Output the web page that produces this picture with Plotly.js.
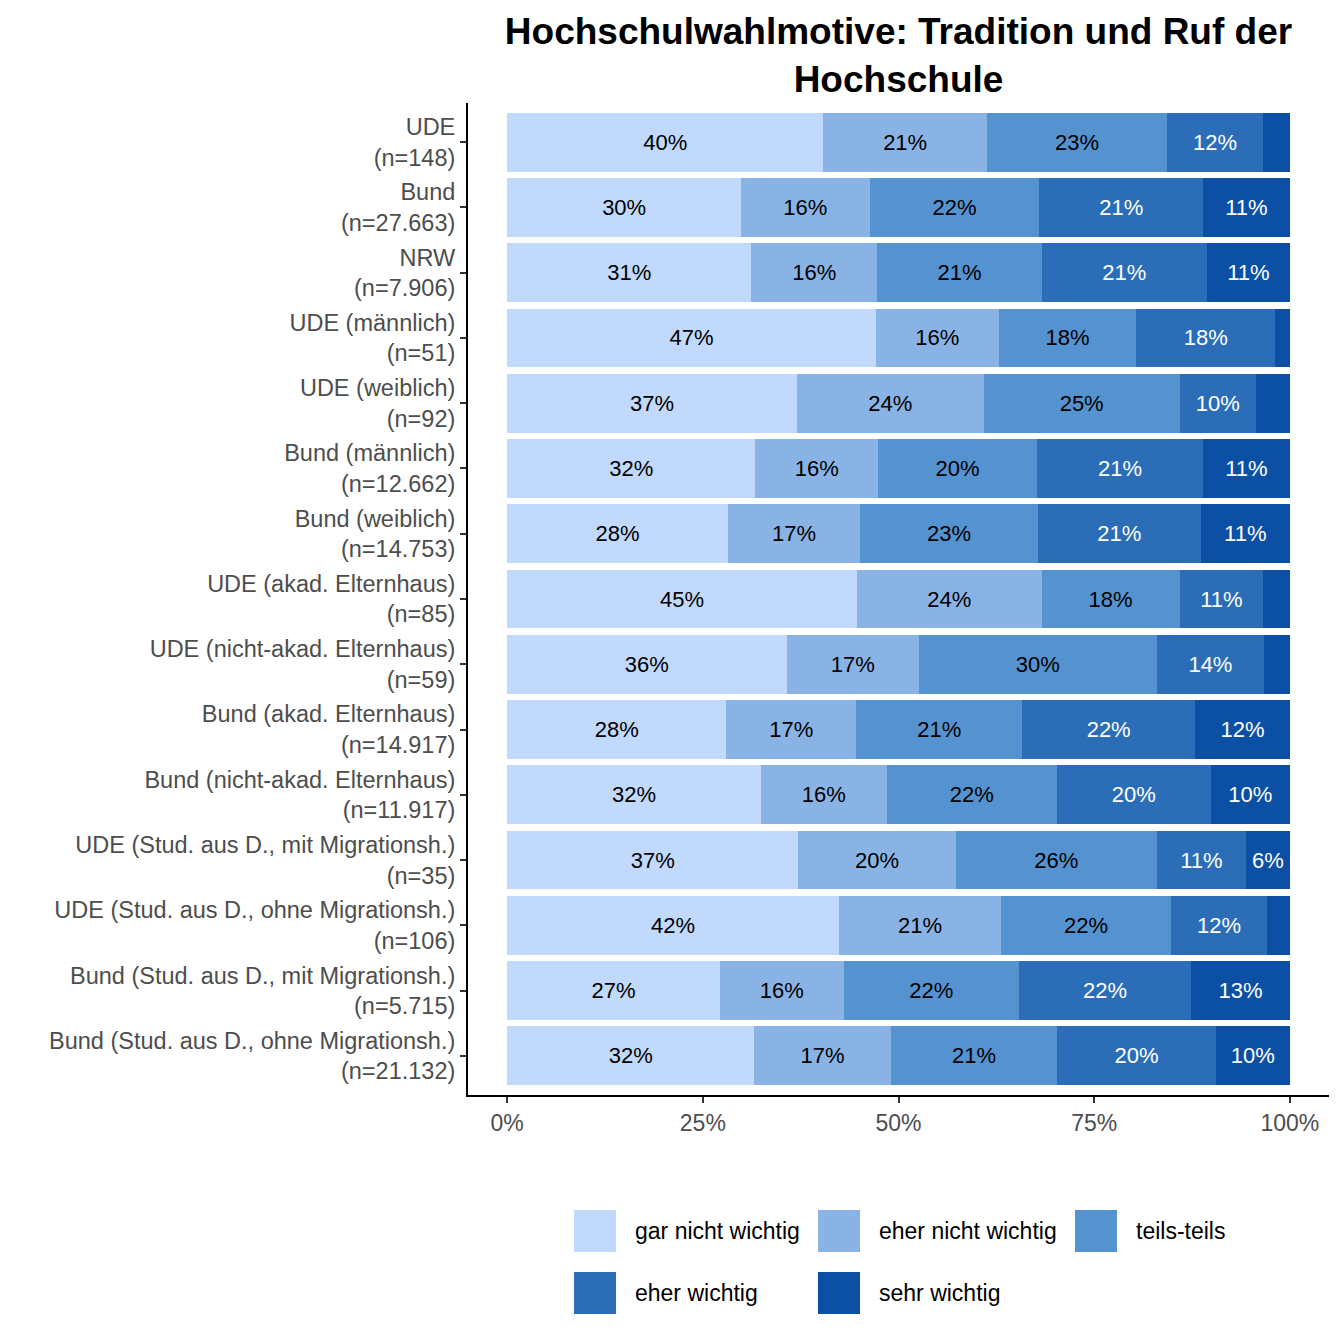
<!DOCTYPE html>
<html>
<head>
<meta charset="utf-8">
<script src="https://cdn.plot.ly/plotly-3.0.1.min.js"></script>
<style>body{margin:0;background:#fff}#myDiv{width:1344px;height:1344px}</style>
</head>
<body>
<div id="myDiv"></div>
<script>
// groups, top to bottom
groups = [
  'UDE<br>(n=148)',
  'Bund<br>(n=27.663)',
  'NRW<br>(n=7.906)',
  'UDE (männlich)<br>(n=51)',
  'UDE (weiblich)<br>(n=92)',
  'Bund (männlich)<br>(n=12.662)',
  'Bund (weiblich)<br>(n=14.753)',
  'UDE (akad. Elternhaus)<br>(n=85)',
  'UDE (nicht-akad. Elternhaus)<br>(n=59)',
  'Bund (akad. Elternhaus)<br>(n=14.917)',
  'Bund (nicht-akad. Elternhaus)<br>(n=11.917)',
  'UDE (Stud. aus D., mit Migrationsh.)<br>(n=35)',
  'UDE (Stud. aus D., ohne Migrationsh.)<br>(n=106)',
  'Bund (Stud. aus D., mit Migrationsh.)<br>(n=5.715)',
  'Bund (Stud. aus D., ohne Migrationsh.)<br>(n=21.132)'
];

levels = ['gar nicht wichtig', 'eher nicht wichtig', 'teils-teils', 'eher wichtig', 'sehr wichtig'];

// shares in percent, one array per answer level
garNicht   = [40.4, 29.9, 31.2, 47.1, 37.0, 31.7, 28.2, 44.7, 35.7, 28.0, 32.4, 37.2, 42.4, 27.2, 31.6];
eherNicht  = [20.9, 16.4, 16.1, 15.7, 23.9, 15.7, 16.9, 23.6, 16.9, 16.6, 16.1, 20.1, 20.7, 15.8, 17.4];
teilsTeils = [23.0, 21.7, 21.0, 17.6, 25.0, 20.3, 22.7, 17.6, 30.4, 21.2, 21.7, 25.7, 21.7, 22.4, 21.3];
eherWichtig= [12.3, 20.9, 21.1, 17.7,  9.8, 21.2, 20.8, 10.7, 13.7, 22.1, 19.7, 11.4, 12.3, 22.0, 20.2];
sehrWichtig= [ 3.4, 11.1, 10.6,  1.9,  4.3, 11.1, 11.4,  3.4,  3.3, 12.1, 10.1,  5.6,  2.9, 12.6,  9.5];

xTicks = [0, 25, 50, 75, 100];
xTickLabels = ['0%', '25%', '50%', '75%', '100%'];

colors = ['#c1d9fc', '#8ab3e5', '#5592d0', '#2b6eb7', '#0b50a4'];
textColors = ['#000000', '#000000', '#000000', '#ffffff', '#ffffff'];

series = [garNicht, eherNicht, teilsTeils, eherWichtig, sehrWichtig];

// plot area in pixels
L = 468; R = 1329; T = 103; B = 1095;
function px(x){ return (x - L) / (R - L); }
function py(y){ return (B - y) / (B - T); }

data = series.map(function(vals, i){
  return {
    type: 'bar',
    orientation: 'h',
    y: groups,
    x: vals,
    name: levels[i],
    marker: {color: colors[i], line: {width: 0}},
    text: vals.map(function(v){ return v >= 5 ? Math.round(v) + '%' : ''; }),
    textposition: 'inside',
    insidetextanchor: 'middle',
    textangle: 0,
    textfont: {color: textColors[i], size: 22, family: 'Liberation Sans, Arial, sans-serif'},
    hoverinfo: 'skip',
    showlegend: false
  };
});

// legend drawn as big squares like the original
legendCols = [574, 818, 1075];
legendRows = [1210, 1272];
shapes = [];
annotations = [];
levels.forEach(function(name, i){
  var cx = legendCols[i % 3], ry = legendRows[Math.floor(i / 3)];
  shapes.push({type: 'rect', xref: 'paper', yref: 'paper',
    x0: px(cx), x1: px(cx + 42), y0: py(ry + 42), y1: py(ry),
    fillcolor: colors[i], line: {width: 0}});
  annotations.push({xref: 'paper', yref: 'paper', x: px(cx + 59), y: py(ry + 21),
    xanchor: 'left', yanchor: 'middle', showarrow: false, text: name,
    font: {size: 23, color: '#000000'}});
});

layout = {
  width: 1344,
  height: 1344,
  margin: {l: L, r: 1344 - R, t: T, b: 1344 - B},
  paper_bgcolor: '#ffffff',
  plot_bgcolor: '#ffffff',
  font: {family: 'Liberation Sans, Arial, sans-serif', size: 23, color: '#4d4d4d'},
  title: {
    text: '<b>Hochschulwahlmotive: Tradition und Ruf der<br>Hochschule</b>',
    font: {size: 37, color: '#000000'},
    xref: 'paper', x: 0.5, xanchor: 'center',
    yref: 'container', y: 0.967, yanchor: 'top'
  },
  barmode: 'stack',
  bargap: 0.1,
  uniformtext: {minsize: 22, mode: 'show'},
  xaxis: {
    range: [-5, 105],
    tickvals: xTicks,
    ticktext: xTickLabels,
    ticks: 'outside', ticklen: 6, tickwidth: 2, tickcolor: '#333333',
    showline: true, linecolor: '#000000', linewidth: 2,
    showgrid: false, zeroline: false,
    tickfont: {size: 23, color: '#4d4d4d'}
  },
  yaxis: {
    range: [14.6, -0.6],
    type: 'category',
    ticks: 'outside', ticklen: 6, tickwidth: 2, tickcolor: '#333333',
    showline: true, linecolor: '#000000', linewidth: 2,
    showgrid: false, zeroline: false,
    tickfont: {size: 23.5, color: '#4d4d4d'}
  },
  shapes: shapes,
  annotations: annotations
};

Plotly.newPlot('myDiv', data, layout, {displayModeBar: false, staticPlot: true});
</script>
</body>
</html>
